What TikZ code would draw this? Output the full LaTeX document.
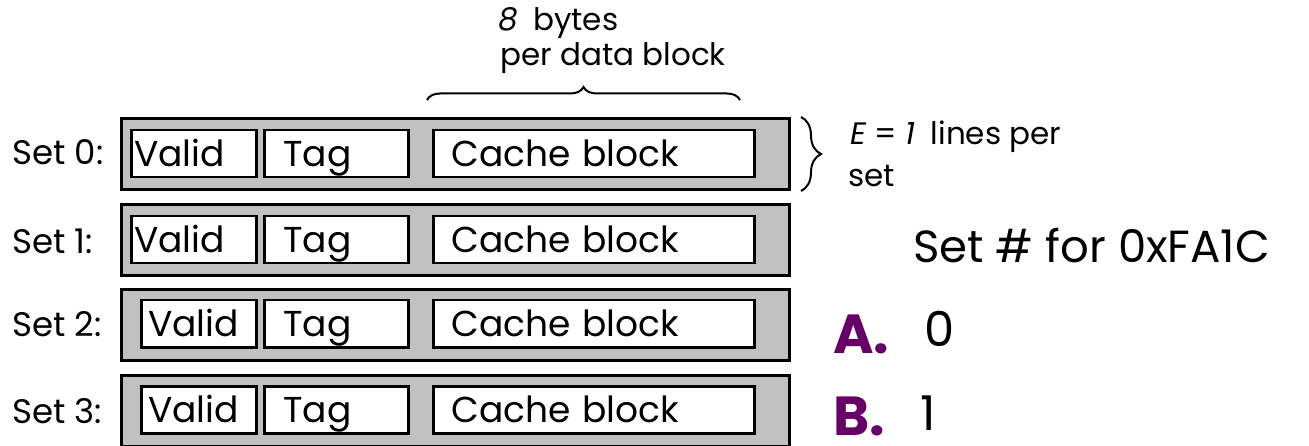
\documentclass[tikz,border=0pt]{standalone}
\usepackage{fontspec}
\setmainfont{Poppins}
\usetikzlibrary{decorations.pathreplacing}
\definecolor{rowgray}{RGB}{192,192,192}
\definecolor{optpurple}{RGB}{102,0,102}
\newcommand\mysize[1]{\fontsize{#1pt}{#1pt}\selectfont}
\begin{document}
\begin{tikzpicture}[x=1pt,y=-1pt,
  setrow/.style={draw=black, fill=rowgray, line width=3pt, minimum width=668pt, minimum height=71pt, anchor=north west, inner sep=0pt},
  field/.style={draw=black, fill=white, line width=2.5pt, minimum height=47pt, anchor=north west, align=left, inner ysep=0pt, text height=25pt, text depth=0pt, font=\mysize{36}},
  validA/.style={field, inner xsep=3pt, text width=119pt},
  validB/.style={field, inner xsep=7pt, text width=101pt},
  tagbox/.style={field, inner xsep=19pt, text width=106pt},
  cachebox/.style={field, inner xsep=18pt, text width=285pt},
  setlabel/.style={anchor=base west, inner sep=0pt, font=\mysize{34}},
  note/.style={anchor=base west, inner sep=0pt, font=\mysize{31}},
  bracestyle/.style={decorate, line width=2pt}
]
\useasboundingbox (0,0) rectangle (1309,446);

% rows
\node[setrow] (r0) at (119.5,117) {};
\node[setrow] (r1) at (119.5,203) {};
\node[setrow] (r2) at (119.5,288) {};
\node[setrow] (r3) at (119.5,374) {};

% fields
\node[validA] (v0) at (130,129) {Valid};
\node[tagbox] (t0) at (263,129) {Tag};
\node[cachebox] (c0) at (432,129) {Cache block};

\node[validA] (v1) at (130,215) {Valid};
\node[tagbox] (t1) at (263,215) {Tag};
\node[cachebox] (c1) at (432,215) {Cache block};

\node[validB] (v2) at (140,299) {Valid};
\node[tagbox] (t2) at (263,299) {Tag};
\node[cachebox] (c2) at (432,299) {Cache block};

\node[validB] (v3) at (140,385) {Valid};
\node[tagbox] (t3) at (263,385) {Tag};
\node[cachebox] (c3) at (432,385) {Cache block};

% set labels
\node[setlabel] (s0) at (12,165) {Set 0:};
\node[setlabel] (s1) at (12,254) {Set 1:};
\node[setlabel] (s2) at (12,337) {Set 2:};
\node[setlabel] (s3) at (12,423) {Set 3:};

% braces
\coordinate (tbL) at (427,100);
\coordinate (tbR) at (740,100);
\draw[bracestyle, decoration={brace, amplitude=13pt}] (tbL) -- (tbR);
\coordinate (rbT) at (801,117);
\coordinate (rbB) at (801,191);
\draw[bracestyle, decoration={brace, amplitude=20pt}] (rbT) -- (rbB);

% notes
\node[note] (bytes) at (498,31) {\textit{8}\enspace bytes};
\node[note] (perblock) at (500,66) {per data block};
\node[note] (lines) at (850,145) {\textit{E} = \textit{1}\enspace lines per};
\node[note] (setw) at (848,187) {set};

% question
\node[anchor=base west, inner sep=0pt, font=\mysize{45}] (q) at (913,263) {Set \# for 0xFA1C};
\node[anchor=base west, inner sep=0pt, font=\mysize{55}\bfseries, text=optpurple] (A) at (833,353) {A.};
\node[anchor=base west, inner sep=0pt, font=\mysize{48}] (zero) at (924,346) {0};
\node[anchor=base west, inner sep=0pt, font=\mysize{55}\bfseries, text=optpurple] (B) at (833,435) {B.};
\node[anchor=base west, inner sep=0pt, font=\mysize{48}] (one) at (920,430) {1};
\end{tikzpicture}
\end{document}
